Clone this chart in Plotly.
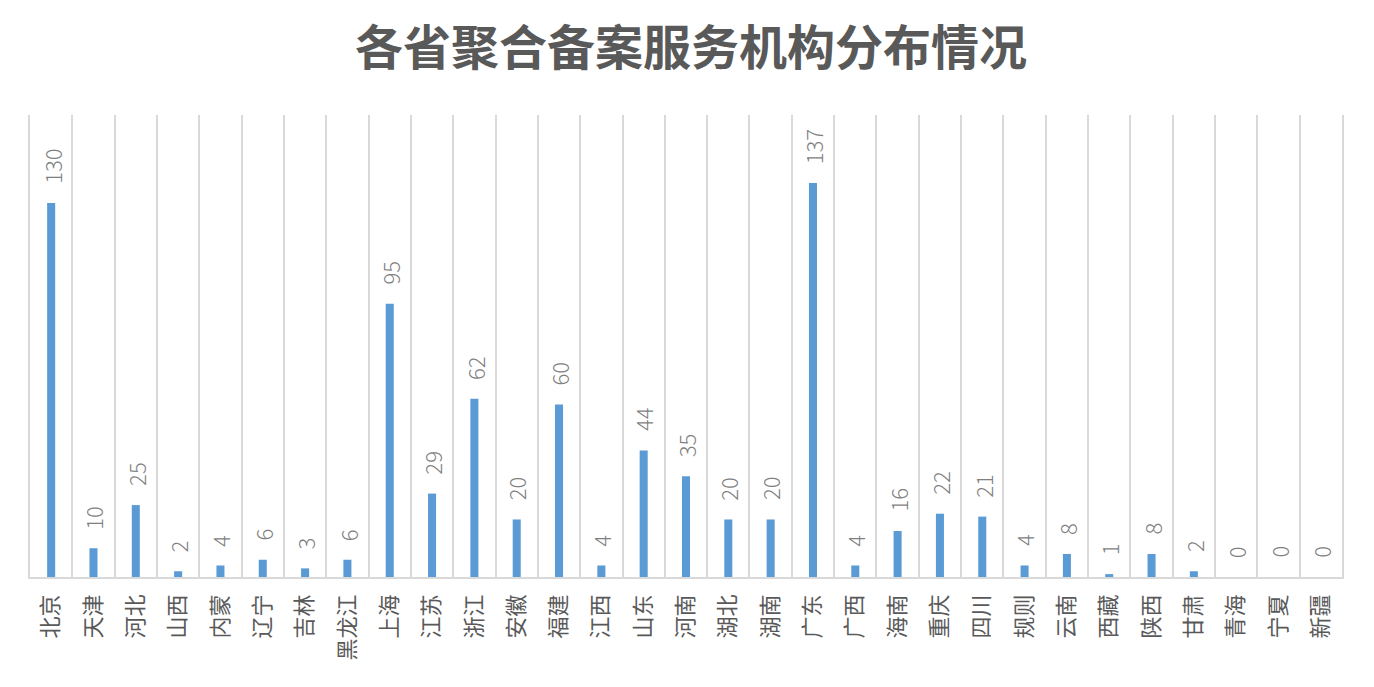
import plotly.graph_objects as go

provinces = ["北京", "天津", "河北", "山西", "内蒙", "辽宁", "吉林", "黑龙江", "上海", "江苏",
             "浙江", "安徽", "福建", "江西", "山东", "河南", "湖北", "湖南", "广东", "广西",
             "海南", "重庆", "四川", "规则", "云南", "西藏", "陕西", "甘肃", "青海", "宁夏", "新疆"]
counts = [130, 10, 25, 2, 4, 6, 3, 6, 95, 29,
          62, 20, 60, 4, 44, 35, 20, 20, 137, 4,
          16, 22, 21, 4, 8, 1, 8, 2, 0, 0, 0]
title_text = "各省聚合备案服务机构分布情况"

font_cjk = "Noto Sans CJK SC, Noto Sans, sans-serif"

fig = go.Figure()
fig.add_trace(go.Bar(
    x=provinces,
    y=counts,
    width=0.19,
    marker=dict(color="#5B9BD5", line=dict(width=0)),
    hoverinfo="x+y",
))

# data labels above each bar, rotated
for p, v in zip(provinces, counts):
    fig.add_annotation(
        x=p, y=v, xref="x", yref="y",
        text=str(v),
        showarrow=False,
        textangle=-90,
        xanchor="center", yanchor="bottom",
        yshift=17,
        font=dict(family=font_cjk, size=22, color="#7F7F7F", weight=300),
    )

# page body has an 8px default margin; compensate so the plot lands where the reference has it
fig.update_layout(
    width=1366,
    height=679,
    paper_bgcolor="white",
    plot_bgcolor="white",
    margin=dict(l=22, r=32, t=107, b=110),
    title=dict(
        text="<b>" + title_text + "</b>",
        x=0.5, xanchor="center",
        y=1 - 40 / 679, yanchor="middle",
        font=dict(family=font_cjk, size=48, color="#595959"),
    ),
    showlegend=False,
)

fig.update_xaxes(
    type="category",
    tickson="boundaries",
    showgrid=True,
    gridcolor="#D9D9D9",
    gridwidth=1.5,
    showline=True,
    linecolor="#D9D9D9",
    linewidth=1.5,
    ticks="",
    ticklabelstandoff=7,
    tickangle=-90,
    tickfont=dict(family=font_cjk, size=22, color="#595959"),
    range=[-0.5, len(provinces) - 0.5],
    automargin=False,
    fixedrange=True,
)
fig.update_yaxes(
    range=[0, 160.6],
    showticklabels=False,
    showgrid=False,
    zeroline=False,
    showline=True,
    mirror=True,
    linecolor="#D9D9D9",
    linewidth=1.5,
    ticks="",
    fixedrange=True,
)

fig.write_html("out.html")
